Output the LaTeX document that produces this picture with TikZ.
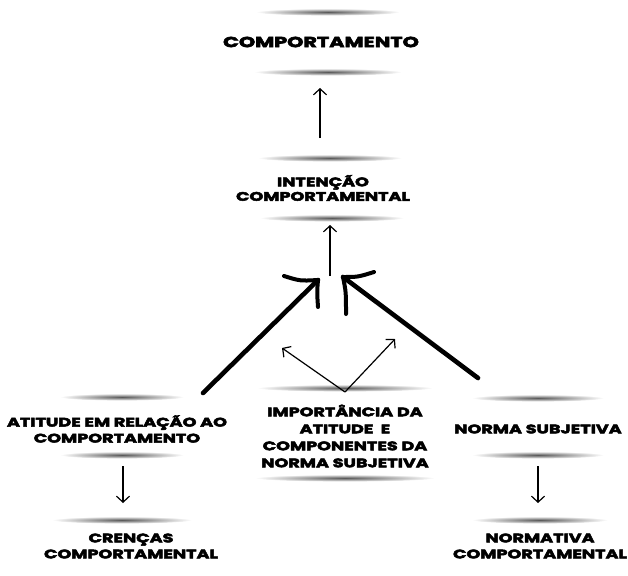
\documentclass[tikz,border=0pt]{standalone}
\usepackage{fontspec}
\newfontfamily\hf{Poppins}[FakeStretch=1.42,BoldFeatures={FakeBold=4}]
\usetikzlibrary{arrows.meta}
\begin{document}
\begin{tikzpicture}[x=1pt,y=-1pt,
  lbl/.style={font=\hf\bfseries\fontsize{12.4}{16}\selectfont,align=center,inner sep=0pt},
  thin/.style={line width=1.2pt,-{Straight Barb[length=6pt,width=13pt,line width=1.2pt]}},
  thick/.style={line width=4.6pt,line cap=round},
  arm/.style={line width=4pt,line cap=round}]
\useasboundingbox (0,0) rectangle (628,575);
\newcommand{\sep}[3]{\shade[inner color=black!65,outer color=white] (#1,#2) ellipse (#3 and 3.6);}
% separators
\sep{328}{12}{72}
\sep{328}{72}{74}
\sep{330}{158}{72}
\sep{332}{218}{72}
\sep{122}{397}{62}
\sep{122}{455}{62}
\sep{345}{388}{88}
\sep{345}{478}{90}
\sep{538}{398}{66}
\sep{538}{455}{66}
\sep{122}{520}{70}
\sep{540}{520}{68}
% nodes
\node[lbl,font=\hf\bfseries\fontsize{14.6}{16}\selectfont] (comp) at (321,42) {COMPORTAMENTO};
\node[lbl,font=\hf\bfseries\fontsize{12.4}{14.5}\selectfont] (int) at (323,188) {INTENÇÃO\\COMPORTAMENTAL};
\node[lbl] (ati) at (117,429) {ATITUDE EM RELAÇÃO AO\\COMPORTAMENTO};
\node[lbl,font=\hf\bfseries\fontsize{12.4}{17}\selectfont] (imp) at (345,436) {IMPORTÂNCIA DA\\ATITUDE \ E\\COMPONENTES DA\\NORMA SUBJETIVA};
\node[lbl] (nor) at (538,429) {NORMA SUBJETIVA};
\node[lbl] (cre) at (131,546) {CRENÇAS\\COMPORTAMENTAL};
\node[lbl] (nco) at (540,546) {NORMATIVA\\COMPORTAMENTAL};
% coordinates
\coordinate (c1) at (320,138); \coordinate (c2) at (320,88);
\coordinate (i1) at (330,276); \coordinate (i2) at (330,225);
\coordinate (lt) at (318,280); \coordinate (ls) at (203,393);
\coordinate (rt) at (343,277); \coordinate (rs) at (478,378);
\coordinate (v) at (345,392); \coordinate (vl) at (282,348); \coordinate (vr) at (395,339);
\coordinate (d1) at (123,466); \coordinate (d2) at (123,503);
\coordinate (e1) at (538,466); \coordinate (e2) at (538,503);
% connectors
\draw[thin] (c1) -- (c2);
\draw[thin] (i1) -- (i2);
\draw[thin] (v) -- (vl);
\draw[thin] (v) -- (vr);
\draw[thin] (d1) -- (d2);
\draw[thin] (e1) -- (e2);
\draw[thick] (ls) -- (lt);
\draw[arm] (284,276) .. controls (300,281) .. (lt);
\draw[arm] (lt) .. controls (317,292) .. (318,307);
\draw[thick] (rs) -- (rt);
\draw[arm] (374,272) .. controls (358,277) .. (rt);
\draw[arm] (rt) .. controls (346,292) .. (346,314);
\end{tikzpicture}
\end{document}
